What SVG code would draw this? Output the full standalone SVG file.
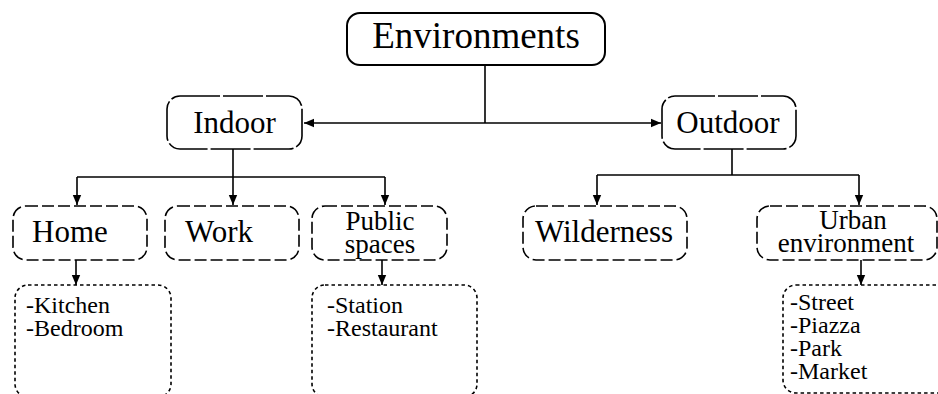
<svg xmlns="http://www.w3.org/2000/svg" width="938" height="394" viewBox="0 0 938 394">
  <style>
    text { font-family: "Liberation Serif", serif; fill: #000; }
    .root { font-size: 37px; }
    .node { font-size: 31px; }
    .node2 { font-size: 27px; }
    .list { font-size: 24px; }
    .box { fill: #fff; stroke: #000; stroke-width: 1.6; }
    .solid { stroke-width: 2; }
    .long { stroke-dasharray: 40 3; }
    .dash { stroke-dasharray: 12 4; }
    .dot { stroke-dasharray: 3.5 3; }
    .edge { fill: none; stroke: #000; stroke-width: 1.6; }
  </style>
  <defs>
    <marker id="arr" viewBox="0 0 10 10" refX="10" refY="5" markerWidth="10" markerHeight="10" markerUnits="userSpaceOnUse" orient="auto">
      <path d="M0,0.8 L10,5 L0,9.2 Z" fill="#000"/>
    </marker>
    <marker id="arrs" viewBox="0 0 10 10" refX="10" refY="5" markerWidth="10" markerHeight="10" markerUnits="userSpaceOnUse" orient="auto-start-reverse">
      <path d="M0,0.8 L10,5 L0,9.2 Z" fill="#000"/>
    </marker>
  </defs>

  <g id="connectors">
    <path class="edge" d="M485,65 V123"/>
    <path class="edge" d="M304,123 H661" marker-start="url(#arrs)" marker-end="url(#arr)"/>
    <path class="edge" d="M233,149 V177"/>
    <path class="edge" d="M77,177 H385"/>
    <path class="edge" d="M77,177 V205" marker-end="url(#arr)"/>
    <path class="edge" d="M233,177 V205" marker-end="url(#arr)"/>
    <path class="edge" d="M385,177 V205" marker-end="url(#arr)"/>
    <path class="edge" d="M732,149 V175"/>
    <path class="edge" d="M597,175 H859"/>
    <path class="edge" d="M597,175 V205" marker-end="url(#arr)"/>
    <path class="edge" d="M859,175 V205" marker-end="url(#arr)"/>
    <path class="edge" d="M76,260 V285" marker-end="url(#arr)"/>
    <path class="edge" d="M382,260 V285" marker-end="url(#arr)"/>
    <path class="edge" d="M861,260 V285" marker-end="url(#arr)"/>
  </g>

  <g id="environments">
    <rect class="box solid" x="347" y="13" width="258" height="52" rx="13"/>
    <text class="root" x="476" y="48" text-anchor="middle">Environments</text>
  </g>

  <g id="indoor">
    <rect class="box long" x="167" y="96" width="135" height="53" rx="13"/>
    <text class="node" x="234.5" y="133" text-anchor="middle">Indoor</text>
  </g>

  <g id="outdoor">
    <rect class="box long" x="662" y="96" width="134" height="53" rx="13"/>
    <text class="node" x="728" y="133" text-anchor="middle">Outdoor</text>
  </g>

  <g id="home">
    <rect class="box dash" x="13" y="206" width="134" height="54" rx="13"/>
    <text class="node" x="32" y="242">Home</text>
  </g>

  <g id="work">
    <rect class="box dash" x="165" y="206" width="134" height="54" rx="13"/>
    <text class="node" x="185" y="242">Work</text>
  </g>

  <g id="public">
    <rect class="box dash" x="312" y="206" width="135" height="54" rx="13"/>
    <text class="node2" x="380" y="230" text-anchor="middle">Public</text>
    <text class="node2" x="380" y="253" text-anchor="middle">spaces</text>
  </g>

  <g id="wilderness">
    <rect class="box dash" x="523" y="206" width="164" height="54" rx="13"/>
    <text class="node" x="604" y="242" text-anchor="middle">Wilderness</text>
  </g>

  <g id="urban">
    <rect class="box dash" x="757" y="206" width="180" height="54" rx="13"/>
    <text class="node2" x="853" y="229" text-anchor="middle">Urban</text>
    <text class="node2" x="846" y="252" text-anchor="middle">environment</text>
  </g>

  <g id="home-list">
    <rect class="box dot" x="15" y="285" width="156" height="112" rx="13"/>
    <text class="list" x="26" y="313">-Kitchen</text>
    <text class="list" x="26" y="336">-Bedroom</text>
  </g>

  <g id="public-list">
    <rect class="box dot" x="312" y="285" width="165" height="112" rx="13"/>
    <text class="list" x="327" y="313">-Station</text>
    <text class="list" x="327" y="336">-Restaurant</text>
  </g>

  <g id="urban-list">
    <rect class="box dot" x="783" y="285" width="180" height="108" rx="13"/>
    <text class="list" x="790" y="310">-Street</text>
    <text class="list" x="790" y="333">-Piazza</text>
    <text class="list" x="790" y="356">-Park</text>
    <text class="list" x="790" y="379">-Market</text>
  </g>
</svg>
